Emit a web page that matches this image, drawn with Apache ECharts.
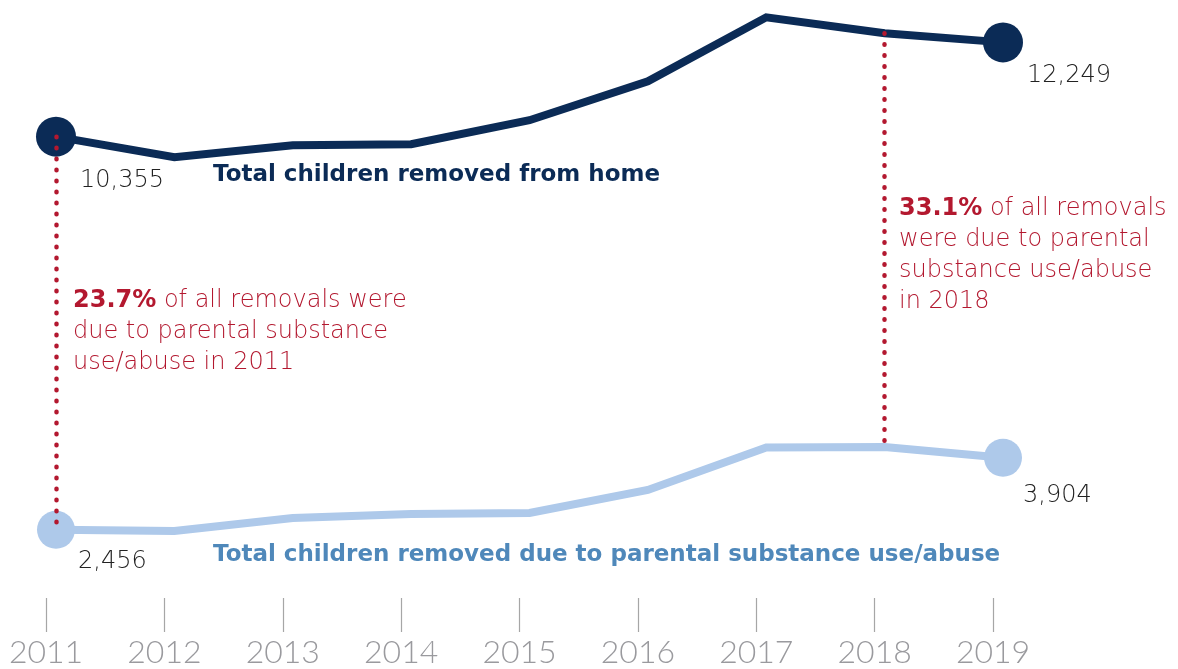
<!DOCTYPE html>
<html>
<head>
<meta charset="utf-8">
<script src="https://cdn.jsdelivr.net/npm/echarts@6/dist/echarts.min.js"></script>
<style>
  html, body { margin: 0; padding: 0; background: #ffffff; }
  #chart { width: 1178px; height: 669px; }
</style>
</head>
<body>
<div id="chart"></div>
<script>
// Children removed from home, by year
const years = ['2011', '2012', '2013', '2014', '2015', '2016', '2017', '2018', '2019'];
const totalRemoved = [10355, 9942, 10183, 10203, 10685, 11468, 12753, 12432, 12249];
const substanceRemoved = [2456, 2432, 2693, 2773, 2793, 3255, 4110, 4118, 3904];
const highlightYears = ['2011', '2018'];
const seriesNames = [
  'Total children removed from home',
  'Total children removed due to parental substance use/abuse'
];

const NAVY = '#0b2b56';
const LIGHT_BLUE = '#aec9ea';
const LABEL_BLUE = '#4f88ba';
const RED = '#b3182f';
const GREY = '#9a9a9e';
const FONT = '"DejaVu Sans", "Open Sans", sans-serif';
const AXIS_FONT = 'Lato, "DejaVu Sans", sans-serif';
const THIN = 200;

const fmt = v => v.toLocaleString('en-US');
const last = years.length - 1;

// Big round markers and value labels only at the two ends of each line
function buildData(values, dotSize, offsets) {
  return values.map((v, i) => {
    if (i !== 0 && i !== last) {
      return { value: v, symbol: 'none', label: { show: false } };
    }
    const off = i === 0 ? offsets[0] : offsets[1];
    return {
      value: v,
      symbol: 'circle',
      symbolSize: dotSize,
      label: {
        show: true,
        position: 'inside',
        offset: off,
        align: 'left',
        verticalAlign: 'middle',
        formatter: () => fmt(v),
        color: '#222222',
        fontFamily: FONT,
        fontWeight: THIN,
        fontSize: 24
      }
    };
  });
}

// Share of removals due to parental substance use in a given year
function share(year) {
  const i = years.indexOf(year);
  return (substanceRemoved[i] / totalRemoved[i] * 100).toFixed(1) + '%';
}

const chart = echarts.init(document.getElementById('chart'), null, { renderer: 'canvas' });

const noteText = {
  fill: RED,
  fontFamily: FONT,
  fontSize: 24,
  fontWeight: THIN,
  lineHeight: 31,
  rich: {
    b: { fill: RED, fontFamily: FONT, fontSize: 24, fontWeight: 'bold', lineHeight: 31 }
  }
};

chart.setOption({
  animation: false,
  backgroundColor: '#ffffff',
  grid: [
    { left: 56, right: 175, top: 5, bottom: 17 },
    { left: 46, right: 185, top: 598, bottom: 36 }
  ],
  xAxis: [
    {
      gridIndex: 0,
      type: 'category',
      data: years,
      boundaryGap: false,
      axisLine: { show: false },
      axisTick: { show: false },
      axisLabel: { show: false },
      splitLine: { show: false }
    },
    {
      gridIndex: 1,
      type: 'category',
      data: years,
      boundaryGap: false,
      axisLine: { show: false },
      axisTick: {
        show: true,
        inside: true,
        alignWithLabel: true,
        length: 34,
        lineStyle: { color: '#a6a6a6', width: 1.2 }
      },
      axisLabel: {
        color: GREY,
        fontFamily: AXIS_FONT,
        fontWeight: 300,
        fontSize: 32,
        margin: 5
      },
      splitLine: { show: false }
    }
  ],
  yAxis: [
    { gridIndex: 0, type: 'value', min: 0, max: 13000, show: false },
    { gridIndex: 1, type: 'value', min: 0, max: 1, show: false }
  ],
  series: [
    {
      // dotted connectors between the two lines in the highlighted years
      type: 'line',
      xAxisIndex: 0,
      yAxisIndex: 0,
      data: [],
      z: 1,
      silent: true,
      markLine: {
        silent: true,
        symbol: 'none',
        label: { show: false },
        lineStyle: { color: RED, width: 4.5, type: [0.5, 10.5], cap: 'round' },
        data: highlightYears.map(y => {
          const i = years.indexOf(y);
          return [
            { coord: [y, totalRemoved[i]] },
            { coord: [y, substanceRemoved[i]] }
          ];
        })
      }
    },
    {
      name: seriesNames[1],
      type: 'line',
      xAxisIndex: 0,
      yAxisIndex: 0,
      z: 3,
      data: buildData(substanceRemoved, 38, [[22, 32], [20, 38]]),
      lineStyle: { color: LIGHT_BLUE, width: 8, join: 'miter' },
      itemStyle: { color: LIGHT_BLUE },
      emphasis: { disabled: true }
    },
    {
      name: seriesNames[0],
      type: 'line',
      xAxisIndex: 0,
      yAxisIndex: 0,
      z: 3,
      data: buildData(totalRemoved, 40, [[24, 44], [24, 33]]),
      lineStyle: { color: NAVY, width: 8, join: 'miter' },
      itemStyle: { color: NAVY },
      emphasis: { disabled: true }
    }
  ],
  graphic: [
    {
      type: 'text',
      x: 213,
      y: 175,
      style: {
        text: seriesNames[0],
        fill: NAVY,
        fontFamily: FONT,
        fontWeight: 'bold',
        fontSize: 23,
        verticalAlign: 'middle'
      }
    },
    {
      type: 'text',
      x: 213,
      y: 555,
      style: {
        text: seriesNames[1],
        fill: LABEL_BLUE,
        fontFamily: FONT,
        fontWeight: 'bold',
        fontSize: 23,
        verticalAlign: 'middle'
      }
    },
    {
      type: 'text',
      x: 73,
      y: 285,
      style: Object.assign({}, noteText, {
        text: '{b|' + share('2011') + '} of all removals were\ndue to parental substance\nuse/abuse in 2011'
      })
    },
    {
      type: 'text',
      x: 899,
      y: 193,
      style: Object.assign({}, noteText, {
        text: '{b|' + share('2018') + '} of all removals\nwere due to parental\nsubstance use/abuse\nin 2018'
      })
    }
  ]
});
</script>
</body>
</html>
